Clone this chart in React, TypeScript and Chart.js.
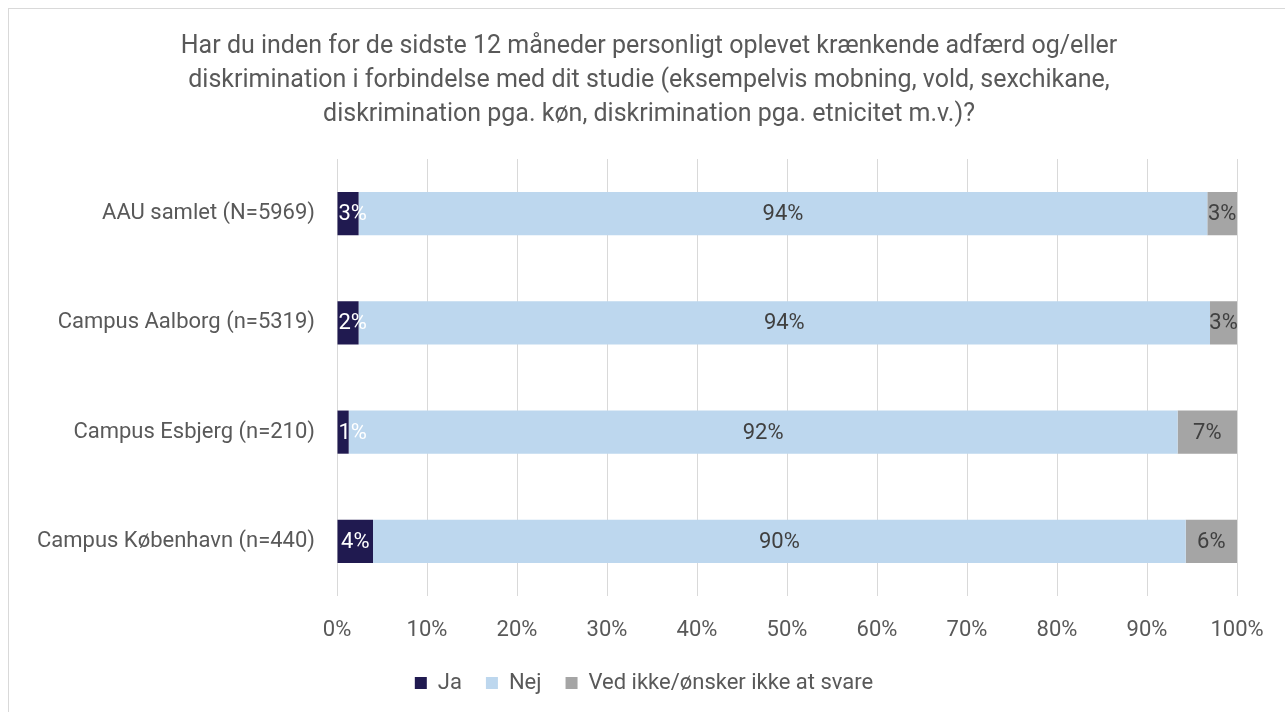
import React, { useEffect, useRef } from "react";
import { Chart, registerables } from "chart.js";

Chart.register(...registerables);

const titleLines = [
  "Har du inden for de sidste 12 måneder personligt oplevet krænkende adfærd og/eller",
  "diskrimination i forbindelse med dit studie (eksempelvis mobning, vold, sexchikane,",
  "diskrimination pga. køn, diskrimination pga. etnicitet m.v.)?",
];
const categories = [
  "AAU samlet (N=5969)",
  "Campus Aalborg (n=5319)",
  "Campus Esbjerg (n=210)",
  "Campus København (n=440)",
];
const seriesNames = ["Ja", "Nej", "Ved ikke/ønsker ikke at svare"];
const jaValues = [2.4, 2.4, 1.3, 4.0];
const nejValues = [94.3, 94.6, 92.1, 90.3];
const vedValues = [3.3, 3.0, 6.6, 5.7];
const jaLabels = ["3%", "2%", "1%", "4%"];
const nejLabels = ["94%", "94%", "92%", "90%"];
const vedLabels = ["3%", "3%", "7%", "6%"];
const xTicks = [0, 10, 20, 30, 40, 50, 60, 70, 80, 90, 100];

const FONT = "Roboto";
const TEXT = "#595959";

const valueLabelPlugin = {
  id: "valueLabels",
  afterDatasetsDraw(chart: any) {
    const ctx = chart.ctx;
    ctx.save();
    ctx.font = `22px ${FONT}`;
    ctx.textBaseline = "middle";
    ctx.textAlign = "center";
    chart.data.datasets.forEach((ds: any, di: number) => {
      const meta = chart.getDatasetMeta(di);
      meta.data.forEach((el: any, i: number) => {
        const text = ds.valueLabels[i];
        const w = ctx.measureText(text).width;
        const left = Math.min(el.x, el.base);
        const right = Math.max(el.x, el.base);
        let cx = (left + right) / 2;
        if (di === 0) cx = Math.max(cx, left + w / 2 + 1);
        ctx.fillStyle = ds.labelColor;
        ctx.fillText(text, cx, el.y + 1);
      });
    });
    ctx.restore();
  },
};

// centre the title and legend on the whole canvas rather than the padded area
const recentrePlugin = {
  id: "recentre",
  afterLayout(chart: any) {
    const t = chart.titleBlock;
    if (t) {
      t.left += 26;
      t.right += 26;
    }
    const l = chart.legend;
    if (l) {
      l.left += 21;
      l.right += 21;
    }
  },
};

export default function App() {
  const ref = useRef<HTMLCanvasElement | null>(null);
  useEffect(() => {
    if (!ref.current) return;
    const chart = new Chart(ref.current, {
      type: "bar",
      data: {
        labels: categories,
        datasets: [
          {
            label: seriesNames[0],
            data: jaValues,
            backgroundColor: "#201a50",
            borderWidth: 0,
            valueLabels: jaLabels,
            labelColor: "#ffffff",
          } as any,
          {
            label: seriesNames[1],
            data: nejValues,
            backgroundColor: "#bdd7ee",
            borderWidth: 0,
            valueLabels: nejLabels,
            labelColor: "#404040",
          } as any,
          {
            label: seriesNames[2],
            data: vedValues,
            backgroundColor: "#a5a5a5",
            borderWidth: 0,
            valueLabels: vedLabels,
            labelColor: "#404040",
          } as any,
        ],
      },
      options: {
        indexAxis: "y",
        animation: false,
        responsive: false,
        maintainAspectRatio: false,
        datasets: { bar: { categoryPercentage: 1, barPercentage: 0.395 } },
        layout: { padding: { top: 0, right: 52, bottom: 8, left: 0 } },
        plugins: {
          tooltip: { enabled: false },
          title: {
            display: true,
            text: titleLines,
            color: TEXT,
            font: { family: FONT, size: 25, weight: "normal", lineHeight: 1.36 },
            padding: { top: 21, bottom: 27 },
          },
          legend: {
            position: "bottom",
            labels: {
              color: TEXT,
              font: { family: FONT, size: 22 },
              boxWidth: 12,
              boxHeight: 12,
              padding: 24,
            },
          },
        },
        scales: {
          x: {
            stacked: true,
            min: 0,
            max: 100,
            afterBuildTicks: (s: any) => {
              s.ticks = xTicks.map((v) => ({ value: v }));
            },
            ticks: {
              color: TEXT,
              font: { family: FONT, size: 22 },
              padding: 21,
              callback: (v: any) => v + "%",
            },
            grid: { color: "#d9d9d9", lineWidth: 1, drawTicks: false },
            border: { display: false },
            afterFit: (s: any) => {
              s.height = 52;
            },
          },
          y: {
            stacked: true,
            ticks: {
              color: TEXT,
              font: { family: FONT, size: 22 },
              padding: 22,
            },
            grid: { display: false, drawTicks: false },
            border: { display: false },
            afterFit: (s: any) => {
              s.width = 328;
            },
          },
        },
      },
      plugins: [valueLabelPlugin, recentrePlugin],
    });
    return () => chart.destroy();
  }, []);

  return (
    <div
      style={{
        position: "fixed",
        left: 8,
        top: 8,
        width: 1277,
        height: 704,
        overflow: "hidden",
      }}
    >
      <div
        style={{
          width: 1300,
          height: 730,
          border: "1px solid #d9d9d9",
          boxSizing: "border-box",
        }}
      >
        <canvas ref={ref} width={1280} height={703} style={{ display: "block", width: 1280, height: 703 }} />
      </div>
    </div>
  );
}
